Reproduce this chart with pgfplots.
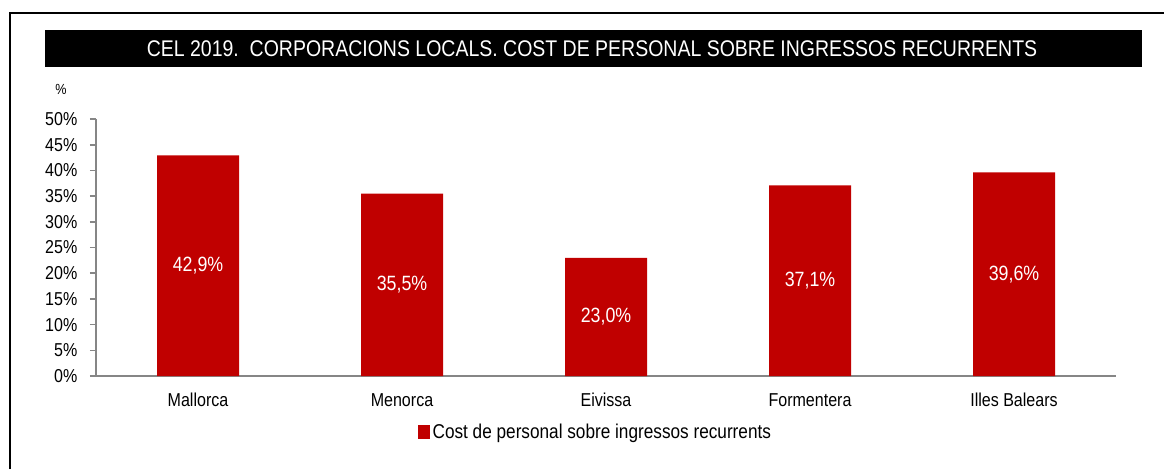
\documentclass[border=0pt]{standalone}
\usepackage{pgfplots}
\pgfplotsset{compat=1.18}
\usepackage{fontspec}
\setmainfont{Liberation Sans}
\newfontfamily\narrow[FakeStretch=0.86]{Liberation Sans}
\definecolor{barred}{HTML}{C00000}
\definecolor{axgray}{HTML}{868686}
\begin{document}
\begin{tikzpicture}[x=0.75pt,y=0.75pt]
% picture size in px (1164 x 469), origin bottom left
\path[use as bounding box] (0,0) rectangle (1164,469);
\draw[line width=2.2] (10,0) -- (10,456) -- (1164,456);
\fill[black] (45,402) rectangle (1142,439);
\node[text=white, font=\narrow\fontsize{17}{19}\selectfont] at (592,420.5)
  {CEL 2019.\ \ CORPORACIONS LOCALS. COST DE PERSONAL SOBRE INGRESSOS RECURRENTS};
\node[font=\narrow\fontsize{11}{12}\selectfont] at (61,380) {\%};
\coordinate (corner) at (96,93);
\begin{axis}[
    at={(corner)}, anchor=south west,
    scale only axis,
    width=765pt, height=192.75pt,
    xmin=-0.5, xmax=4.5,
    ymin=0, ymax=50,
    ytick={0,5,...,50},
    yticklabel={\pgfmathprintnumber{\tick}\%},
    xtick={0,1,2,3,4},
    xticklabels={Mallorca,Menorca,Eivissa,Formentera,Illes Balears},
    major x tick style={draw=none},
    extra x ticks={-0.5,0.5,1.5,2.5,3.5,4.5},
    extra x tick labels={},
    extra x tick style={major tick length=5pt, tick style={axgray, line width=1.2pt}},
    axis x line*=bottom, axis y line*=left,
    axis line style={axgray, line width=1.2pt, -},
    tick align=outside,
    major tick length=4.5pt,
    y tick style={axgray, line width=1.2pt},
    tick label style={font=\narrow\fontsize{14}{16}\selectfont},
    /pgf/number format/assume math mode=true,
    yticklabel style={xshift=-6pt},
    xticklabel style={yshift=-5pt},
    ybar, bar width=61.5pt,
    legend style={draw=none, fill=none, at={(0.49,-0.218)}, anchor=center,
        font=\narrow\fontsize{15}{17}\selectfont, inner sep=0pt},
    legend image code/.code={\fill[barred] (0pt,-5pt) rectangle (9pt,5pt);},
]
\addplot[fill=barred, draw=none,
    visualization depends on=y \as \rawy,
    nodes near coords={\pgfmathprintnumber[fixed,fixed zerofill,precision=1,use comma]{\pgfplotspointmeta}\%},
    nodes near coords style={text=white, font=\narrow\fontsize{15.5}{17}\selectfont,
        anchor=center, shift={(axis direction cs:0,-\rawy/2)}},
] coordinates {(0,42.9) (1,35.5) (2,23.0) (3,37.1) (4,39.6)};
\addlegendentry{Cost de personal sobre ingressos recurrents}
\end{axis}
\end{tikzpicture}
\end{document}
